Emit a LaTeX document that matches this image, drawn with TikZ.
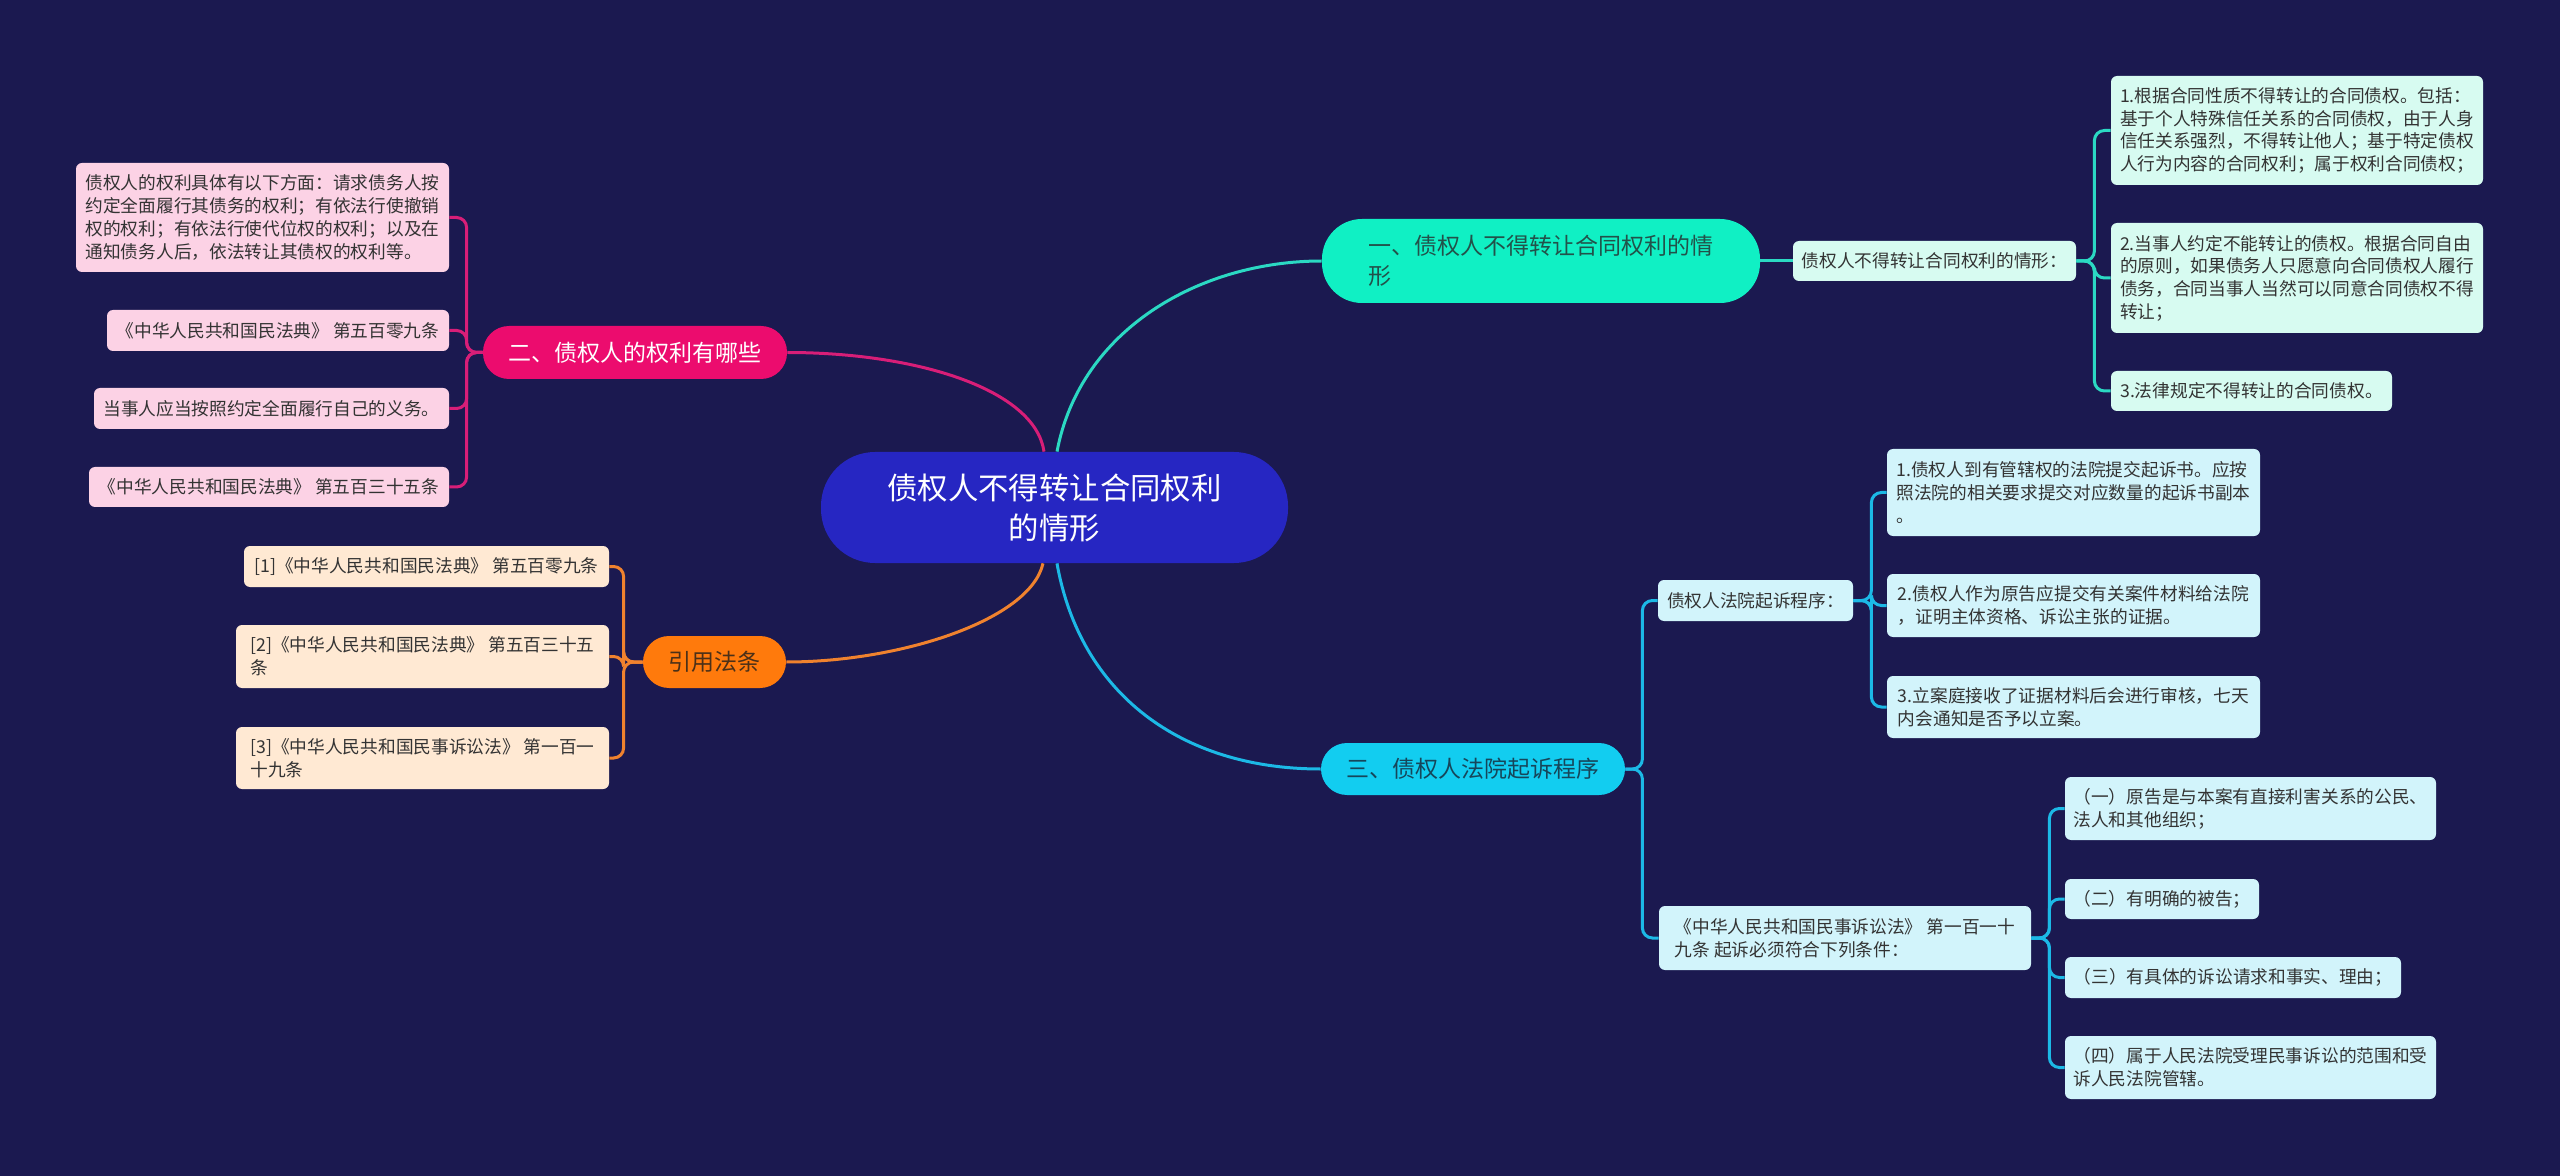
\documentclass[tikz,border=0pt]{standalone}
\usepackage{fontspec}
\setmainfont{Noto Sans CJK SC}
\usetikzlibrary{calc}
\definecolor{bg}{HTML}{1B1950}
\definecolor{central}{HTML}{2626C2}
\definecolor{tealB}{HTML}{10F0C4}
\definecolor{tealL}{HTML}{2BD9C3}
\definecolor{tealF}{HTML}{D7FBF1}
\definecolor{tealT}{HTML}{22524A}
\definecolor{magB}{HTML}{EC0C6E}
\definecolor{magL}{HTML}{D81E78}
\definecolor{magF}{HTML}{FCD2E5}
\definecolor{oraB}{HTML}{FF7A0C}
\definecolor{oraL}{HTML}{F0822E}
\definecolor{oraF}{HTML}{FFE9D3}
\definecolor{oraT}{HTML}{4B3018}
\definecolor{cyaB}{HTML}{12CDF0}
\definecolor{cyaL}{HTML}{1CB9E6}
\definecolor{cyaF}{HTML}{D2F4FB}
\definecolor{cyaT}{HTML}{16465A}
\definecolor{leafT}{HTML}{333333}
\begin{document}
\begin{tikzpicture}[x=0.5pt,y=-0.5pt,
  sz/.style 2 args={minimum width=#1*0.5pt, minimum height=#2*0.5pt},
  leaf/.style={rounded corners=3pt, inner xsep=4pt, inner ysep=2pt, align=left,
    font=\fontsize{8.85}{11.35}\selectfont, text=leafT},
  branch/.style={rounded corners=13pt, inner xsep=6pt, inner ysep=2pt,
    font=\fontsize{11.5}{15}\selectfont},
  mainline/.style={line width=1.5pt},
  brk/.style={line width=1.5pt, rounded corners=5pt},
]
\fill[bg] (0,0) rectangle (2560,1176);

% central
\node[fill=central, rounded corners=27pt, sz={467}{111}, align=center, text=white,
  font=\fontsize{15.2}{20}\selectfont] (C) at (1054.5,507.5)
  {债权人不得转让合同权利\\的情形};

% branches
\node[branch, fill=tealB, text=tealT, rounded corners=20pt, sz={438}{84}, align=left] (B1) at (1541,261)
  {一、债权人不得转让合同权利的情\\形};
\node[branch, fill=magB, text=white, sz={304}{53}] (B2) at (635,352.5) {二、债权人的权利有哪些};
\node[branch, fill=oraB, text=oraT, sz={143}{52}] (B3) at (714.5,662) {引用法条};
\node[branch, fill=cyaB, text=cyaT, sz={304}{52}] (B4) at (1473,769) {三、债权人法院起诉程序};

% main curves
\draw[mainline, tealL] ($(C.north)+(2.5,0)$) .. controls +(23,-122) and +(-122,0) .. (B1.west);
\draw[mainline, magL] ($(C.north)+(-10.5,0)$) .. controls +(-9,-62) and +(130,0) .. (B2.east);
\draw[mainline, oraL] ($(C.south)+(-11.5,0)$) .. controls +(-13,57) and +(113,0) .. (B3.east);
\draw[mainline, cyaL] ($(C.south)+(2.5,0)$) .. controls +(23,130) and +(-140,0) .. (B4.west);

% teal subtree
\node[leaf, fill=tealF, sz={283}{40}] (T0) at (1934.5,261) {债权人不得转让合同权利的情形：};
\node[leaf, fill=tealF, sz={372}{109}] (T1) at (2297,130.5)
  {1.根据合同性质不得转让的合同债权。包括：\\基于个人特殊信任关系的合同债权，由于人身\\信任关系强烈，不得转让他人；基于特定债权\\人行为内容的合同权利；属于权利合同债权；};
\node[leaf, fill=tealF, sz={372}{110}] (T2) at (2297,278)
  {2.当事人约定不能转让的债权。根据合同自由\\的原则，如果债务人只愿意向合同债权人履行\\债务，合同当事人当然可以同意合同债权不得\\转让；};
\node[leaf, fill=tealF, sz={281}{40}] (T3) at (2251.5,391) {3.法律规定不得转让的合同债权。};
\draw[mainline, tealL] (B1.east) -- (T0.west);
\foreach \n in {T1,T2,T3} \draw[brk, tealL] (T0.east) -- ++(18,0) |- (\n.west);

% magenta subtree
\node[leaf, fill=magF, sz={373}{109}] (M1) at (262.5,217.5)
  {债权人的权利具体有以下方面：请求债务人按\\约定全面履行其债务的权利；有依法行使撤销\\权的权利；有依法行使代位权的权利；以及在\\通知债务人后，依法转让其债权的权利等。};
\node[leaf, fill=magF, sz={342}{41}] (M2) at (278,330.5) {《中华人民共和国民法典》 第五百零九条};
\node[leaf, fill=magF, sz={355}{41}] (M3) at (271.5,408.5) {当事人应当按照约定全面履行自己的义务。};
\node[leaf, fill=magF, sz={360}{40}] (M4) at (269,487) {《中华人民共和国民法典》 第五百三十五条};
\foreach \n in {M1,M2,M3,M4} \draw[brk, magL] (B2.west) -- ++(-16,0) |- (\n.east);

% orange subtree
\node[leaf, fill=oraF, sz={365}{41}] (O1) at (426.5,566.5) {[1]《中华人民共和国民法典》 第五百零九条};
\node[leaf, fill=oraF, sz={373}{63}] (O2) at (422.5,656.5) {[2]《中华人民共和国民法典》 第五百三十五\\条};
\node[leaf, fill=oraF, sz={373}{62}] (O3) at (422.5,758) {[3]《中华人民共和国民事诉讼法》 第一百一\\十九条};
\foreach \n in {O1,O2,O3} \draw[brk, oraL] (B3.west) -- ++(-19,0) |- (\n.east);

% cyan subtree
\node[leaf, fill=cyaF, sz={195}{41}] (C0) at (1755.5,600.5) {债权人法院起诉程序：};
\node[leaf, fill=cyaF, sz={372}{64}] (D0) at (1845,938)
  {《中华人民共和国民事诉讼法》 第一百一十\\九条 起诉必须符合下列条件：};
\foreach \n in {C0,D0} \draw[brk, cyaL] (B4.east) -- ++(17,0) |- (\n.west);

\node[leaf, fill=cyaF, sz={373}{87}] (CL1) at (2073.5,492.5)
  {1.债权人到有管辖权的法院提交起诉书。应按\\照法院的相关要求提交对应数量的起诉书副本\\。};
\node[leaf, fill=cyaF, sz={373}{63}] (CL2) at (2073.5,605.5)
  {2.债权人作为原告应提交有关案件材料给法院\\，证明主体资格、诉讼主张的证据。};
\node[leaf, fill=cyaF, sz={373}{62}] (CL3) at (2073.5,707)
  {3.立案庭接收了证据材料后会进行审核，七天\\内会通知是否予以立案。};
\foreach \n in {CL1,CL2,CL3} \draw[brk, cyaL] (C0.east) -- ++(18,0) |- (\n.west);

\node[leaf, fill=cyaF, sz={371}{63}] (DL1) at (2250.5,808.5)
  {（一）原告是与本案有直接利害关系的公民、\\法人和其他组织；};
\node[leaf, fill=cyaF, sz={194}{40}] (DL2) at (2162,899) {（二）有明确的被告；};
\node[leaf, fill=cyaF, sz={336}{41}] (DL3) at (2233,977.5) {（三）有具体的诉讼请求和事实、理由；};
\node[leaf, fill=cyaF, sz={371}{63}] (DL4) at (2250.5,1067.5)
  {（四）属于人民法院受理民事诉讼的范围和受\\诉人民法院管辖。};
\foreach \n in {DL1,DL2,DL3,DL4} \draw[brk, cyaL] (D0.east) -- ++(18,0) |- (\n.west);
\end{tikzpicture}
\end{document}
